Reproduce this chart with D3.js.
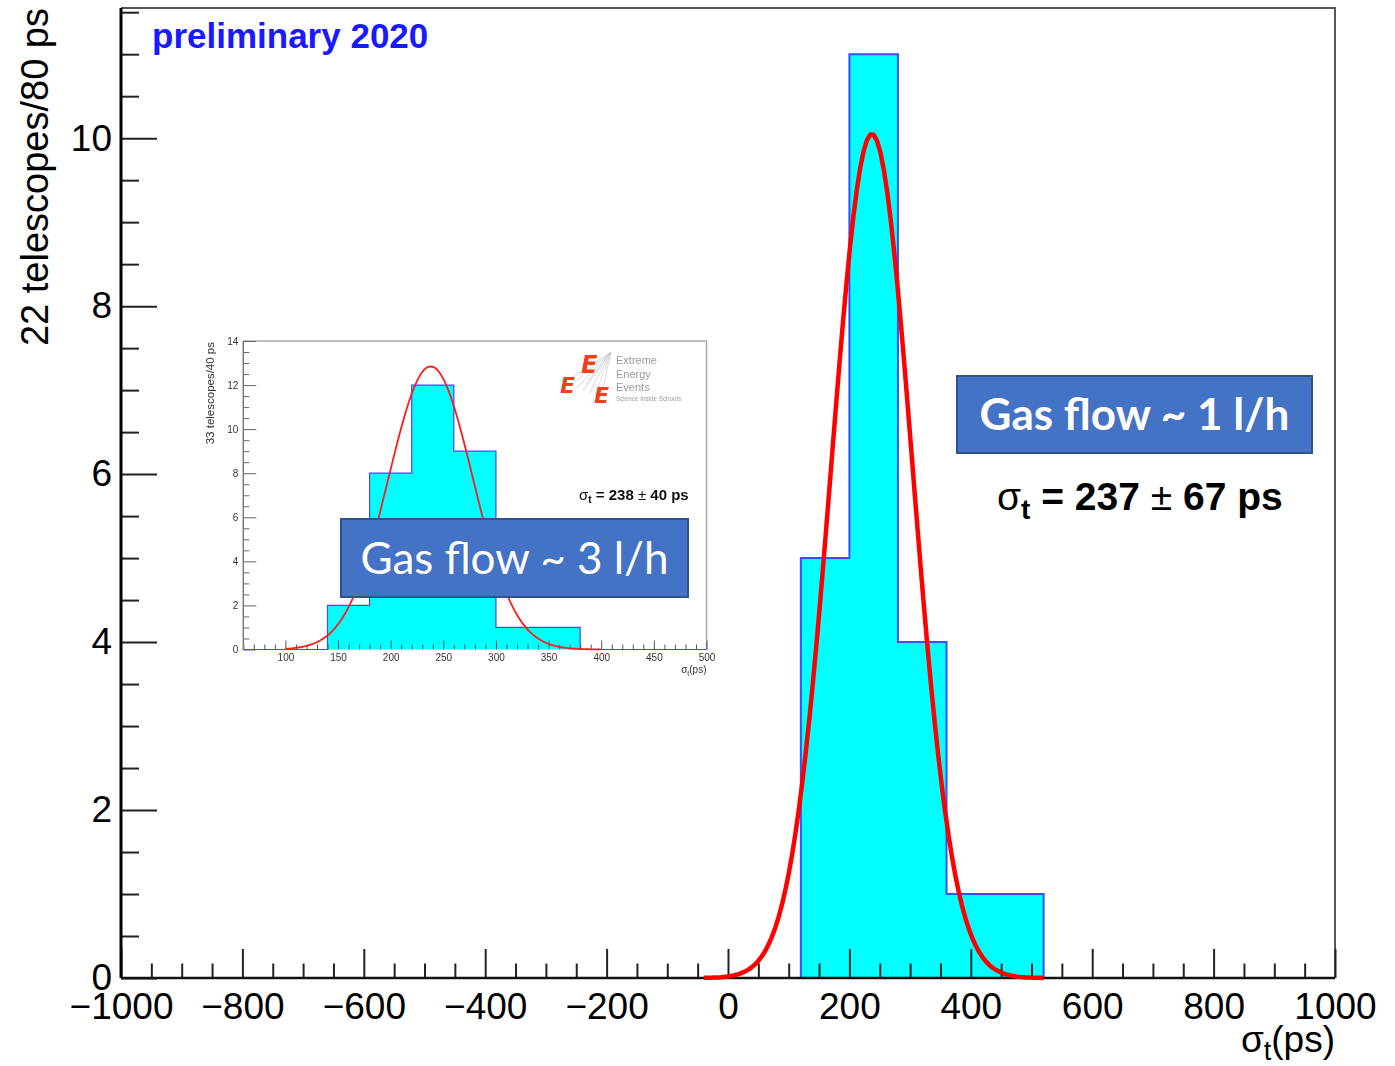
<!DOCTYPE html>
<html><head><meta charset="utf-8">
<script src="https://cdn.jsdelivr.net/npm/d3@7"></script>
<style>
html,body{margin:0;padding:0;background:#fff;}
svg{display:block;}
</style></head>
<body>
<svg id="chart" width="1395" height="1066"></svg>
<script>
// Main histogram: time resolution of 22 telescopes, 80 ps bins
const mainBinLow = [-40, 40, 120, 200, 280, 360, 440];
const mainBinWidth = 80;
const mainCounts = [0, 0, 5, 11, 4, 1, 1];
const mainFit = {mean: 237, sigma: 67, amp: 10.05, from: -40, to: 520};
const mainXTicks = [-1000, -800, -600, -400, -200, 0, 200, 400, 600, 800, 1000];
const mainYTicks = [0, 2, 4, 6, 8, 10];

// Inset histogram: 33 telescopes, 40 ps bins
const insetBinLow = [60, 100, 140, 180, 220, 260, 300, 340, 380, 420, 460];
const insetBinWidth = 40;
const insetCounts = [0, 0, 2, 8, 12, 9, 1, 1, 0, 0, 0];
const insetFit = {mean: 238, sigma: 40, amp: 12.85, from: 100, to: 400};
const insetXTicks = [100, 150, 200, 250, 300, 350, 400, 450, 500];
const insetYTicks = [0, 2, 4, 6, 8, 10, 12, 14];

const ROOTFONT = '"Liberation Sans", Arial, Helvetica, sans-serif';
const BOXFONT = 'Lato, "Open Sans", sans-serif';
const intFmt = d3.format('d');

const svg = d3.select('#chart');

// step outline of a histogram, starting and ending on the zero line
function histPoints(lows, w, counts) {
  const pts = [[lows[0], 0]];
  counts.forEach((c, i) => { pts.push([lows[i], c]); pts.push([lows[i] + w, c]); });
  pts.push([lows[lows.length - 1] + w, 0]);
  return pts;
}
// gaussian fit function sampled like a TF1 (npx points)
function gaussPoints(f, n) {
  return d3.range(n + 1).map(i => {
    const xv = f.from + (f.to - f.from) * i / n;
    return [xv, f.amp * Math.exp(-0.5 * Math.pow((xv - f.mean) / f.sigma, 2))];
  });
}
function styleAxis(g, color, width) {
  g.select('.domain').remove();
  g.selectAll('.tick line').attr('stroke', color).attr('stroke-width', width);
}

/* ---------------- main pad ---------------- */
const X0 = 121, X1 = 1335, Y0 = 978, YT = 8;
const x = d3.scaleLinear().domain([-1000, 1000]).range([X0, X1]);
const y = d3.scaleLinear().domain([0, 11.55]).range([Y0, YT]);

const main = svg.append('g');
const line = d3.line().x(d => x(d[0])).y(d => y(d[1]));

const hp = histPoints(mainBinLow, mainBinWidth, mainCounts);
main.append('path').attr('d', line(hp) + 'Z').attr('fill', '#00ffff').attr('stroke', 'none');
main.append('path').attr('d', line(hp)).attr('fill', 'none')
  .attr('stroke', '#3352ff').attr('stroke-width', 2);

// frame (top and right)
main.append('path')
  .attr('d', `M${X0},${YT}H${X1}V${Y0}`)
  .attr('fill', 'none').attr('stroke', '#555').attr('stroke-width', 2);

// x axis
const xMinor = d3.range(-1000, 1001, 50).filter(v => v % 200 !== 0);
const gxm = main.append('g').attr('transform', `translate(0,${Y0})`)
  .call(d3.axisBottom(x).tickValues(xMinor).tickSize(-14.5).tickFormat(''));
styleAxis(gxm, '#222', 2);
const gx = main.append('g').attr('transform', `translate(0,${Y0})`)
  .call(d3.axisBottom(x).tickValues(mainXTicks).tickFormat(intFmt).tickSize(-29).tickPadding(15));
styleAxis(gx, '#222', 2);
gx.selectAll('text').style('font-family', ROOTFONT).style('font-size', '37px').attr('fill', '#000');

// y axis
const yMinor = d3.range(0, 11.51, 0.5).filter(v => v % 2 !== 0);
const gym = main.append('g').attr('transform', `translate(${X0},0)`)
  .call(d3.axisLeft(y).tickValues(yMinor).tickSize(-18).tickFormat(''));
styleAxis(gym, '#222', 2);
const gy = main.append('g').attr('transform', `translate(${X0},0)`)
  .call(d3.axisLeft(y).tickValues(mainYTicks).tickFormat(intFmt).tickSize(-36).tickPadding(9));
styleAxis(gy, '#222', 2);
gy.selectAll('text').style('font-family', ROOTFONT).style('font-size', '37px').attr('fill', '#000');

// axis lines
main.append('line').attr('x1', X0).attr('x2', X1).attr('y1', Y0).attr('y2', Y0)
  .attr('stroke', '#111').attr('stroke-width', 2.5);
main.append('line').attr('x1', X0).attr('x2', X0).attr('y1', YT).attr('y2', Y0)
  .attr('stroke', '#000').attr('stroke-width', 3);

// fit curve
main.append('path').attr('d', line(gaussPoints(mainFit, 100)))
  .attr('fill', 'none').attr('stroke', '#ff0000').attr('stroke-width', 4.5)
  .attr('stroke-linejoin', 'round');

// axis titles
main.append('text').attr('transform', `translate(48,${YT}) rotate(-90)`)
  .attr('text-anchor', 'end').style('font-family', ROOTFONT).style('font-size', '38px')
  .text('22 telescopes/80 ps');
const xt = main.append('text').attr('x', X1).attr('y', 1052).attr('text-anchor', 'end')
  .style('font-family', ROOTFONT).style('font-size', '37px');
xt.append('tspan').text('σ');
xt.append('tspan').attr('dy', 8).style('font-size', '27px').text('t');
xt.append('tspan').attr('dy', -8).text('(ps)');

main.append('text').attr('x', 152).attr('y', 48)
  .style('font-family', ROOTFONT).style('font-size', '35px').style('font-weight', 'bold')
  .attr('fill', '#1a1aff').text('preliminary 2020');

/* ---------------- inset ---------------- */
const IX0 = 243.3, IX1 = 706.5, IY0 = 649.5, IYT = 341;
const xi = d3.scaleLinear().domain([60, 500]).range([IX0, IX1]);
const yi = d3.scaleLinear().domain([0, 14]).range([IY0, IYT]);
const lineI = d3.line().x(d => xi(d[0])).y(d => yi(d[1]));
const inset = svg.append('g').attr('filter', 'url(#soft)');
svg.append('defs').append('filter').attr('id', 'soft')
  .append('feGaussianBlur').attr('stdDeviation', 0.35);

inset.append('path').attr('d', `M${IX0},${IYT}H${IX1}V${IY0}`)
  .attr('fill', 'none').attr('stroke', '#aaa').attr('stroke-width', 1.5);

const hpi = histPoints(insetBinLow, insetBinWidth, insetCounts);
inset.append('path').attr('d', lineI(hpi) + 'Z').attr('fill', '#00ffff');

const xiMinor = d3.range(60, 501, 10).filter(v => v % 50 !== 0);
const gxim = inset.append('g').attr('transform', `translate(0,${IY0})`)
  .call(d3.axisBottom(xi).tickValues(xiMinor).tickSize(-5).tickFormat(''));
styleAxis(gxim, '#555', 1);
const gxi = inset.append('g').attr('transform', `translate(0,${IY0})`)
  .call(d3.axisBottom(xi).tickValues(insetXTicks).tickFormat(intFmt).tickSize(-9).tickPadding(4));
styleAxis(gxi, '#555', 1);
gxi.selectAll('text').style('font-family', ROOTFONT).style('font-size', '10px').attr('fill', '#333');

const yiMinor = d3.range(0, 14.01, 0.5).filter(v => v % 2 !== 0);
const gyim = inset.append('g').attr('transform', `translate(${IX0},0)`)
  .call(d3.axisLeft(yi).tickValues(yiMinor).tickSize(-6).tickFormat(''));
styleAxis(gyim, '#666', 1);
const gyi = inset.append('g').attr('transform', `translate(${IX0},0)`)
  .call(d3.axisLeft(yi).tickValues(insetYTicks).tickFormat(intFmt).tickSize(-13).tickPadding(5));
styleAxis(gyi, '#666', 1);
gyi.selectAll('text').style('font-family', ROOTFONT).style('font-size', '10px').attr('fill', '#333');

inset.append('line').attr('x1', IX0).attr('x2', IX0).attr('y1', IYT).attr('y2', IY0)
  .attr('stroke', '#777').attr('stroke-width', 1.5);
inset.append('path').attr('d', lineI(hpi)).attr('fill', 'none')
  .attr('stroke', '#4646ff').attr('stroke-width', 1.2);
inset.append('path').attr('d', lineI(gaussPoints(insetFit, 100)))
  .attr('fill', 'none').attr('stroke', '#ff1a1a').attr('stroke-width', 1.8);

inset.append('text').attr('transform', `translate(214,${IYT + 1}) rotate(-90)`)
  .attr('text-anchor', 'end').style('font-family', ROOTFONT).style('font-size', '11.5px')
  .attr('fill', '#333').text('33 telescopes/40 ps');
const xti = inset.append('text').attr('x', IX1).attr('y', 673).attr('text-anchor', 'end')
  .style('font-family', ROOTFONT).style('font-size', '10px').attr('fill', '#333');
xti.append('tspan').text('σ');
xti.append('tspan').attr('dy', 2.5).style('font-size', '7px').text('t');
xti.append('tspan').attr('dy', -2.5).text('(ps)');

const st = inset.append('text').attr('x', 579).attr('y', 500)
  .style('font-family', ROOTFONT).style('font-size', '15px').style('font-weight', 'bold').attr('fill', '#111');
st.append('tspan').style('font-weight', 'normal').text('σ');
st.append('tspan').attr('dy', 3).style('font-size', '10px').text('t');
st.append('tspan').attr('dy', -3).text(' = 238 ');
st.append('tspan').style('font-weight', 'normal').text('±');
st.append('tspan').text(' 40 ps');

// EEE logo
const logo = inset.append('g');
[[611, 352, 572, 384], [611, 352, 577, 388], [611, 352, 583, 391], [611, 352, 589, 394],
 [611, 352, 595, 396], [611, 352, 601, 397], [611, 352, 566, 381], [611, 352, 586, 384]]
  .forEach(s => logo.append('line').attr('x1', s[0]).attr('y1', s[1]).attr('x2', s[2]).attr('y2', s[3])
    .attr('stroke', '#c8c8c8').attr('stroke-width', 0.7));
[[581, 373, 24], [560, 393, 22], [594, 403, 22]].forEach(p =>
  logo.append('text').attr('x', p[0]).attr('y', p[1])
    .style('font-family', '"DejaVu Sans", sans-serif').style('font-size', p[2] + 'px')
    .style('font-style', 'italic').style('font-weight', 'bold').attr('fill', '#f0401c').text('E'));
[['Extreme', 364, 11], ['Energy', 378, 11], ['Events', 391, 11]].forEach(t =>
  logo.append('text').attr('x', 616).attr('y', t[1]).style('font-family', ROOTFONT)
    .style('font-size', t[2] + 'px').attr('fill', '#9a9a9a').text(t[0]));
logo.append('text').attr('x', 616).attr('y', 401).style('font-family', ROOTFONT)
  .style('font-size', '6.3px').attr('fill', '#9a9a9a').text('Science Inside Schools');

/* ---------------- annotation boxes ---------------- */
function gasBox(x0, y0, w, h, label, weight, size) {
  const g = svg.append('g');
  g.append('rect').attr('x', x0).attr('y', y0).attr('width', w).attr('height', h)
    .attr('fill', '#4472c4').attr('stroke', '#2f528f').attr('stroke-width', 2);
  g.append('text').attr('x', x0 + w / 2).attr('y', y0 + h / 2).attr('dy', '0.36em')
    .attr('text-anchor', 'middle').style('font-family', BOXFONT).style('font-size', size + 'px')
    .style('font-weight', weight).attr('fill', '#fff').text(label);
}
gasBox(341, 519, 347, 78, 'Gas flow ~ 3 l/h', 'normal', 44);
gasBox(957, 376, 355, 77, 'Gas flow ~ 1 l/h', 'bold', 44);

const sm = svg.append('text').attr('x', 997).attr('y', 510)
  .style('font-family', ROOTFONT).style('font-size', '39px').style('font-weight', 'bold').attr('fill', '#000');
sm.append('tspan').style('font-weight', 'normal').text('σ');
sm.append('tspan').attr('dy', 9).style('font-size', '28px').text('t');
sm.append('tspan').attr('dy', -9).text(' = 237 ');
sm.append('tspan').style('font-weight', 'normal').text('±');
sm.append('tspan').text(' 67 ps');
</script>
</body></html>
